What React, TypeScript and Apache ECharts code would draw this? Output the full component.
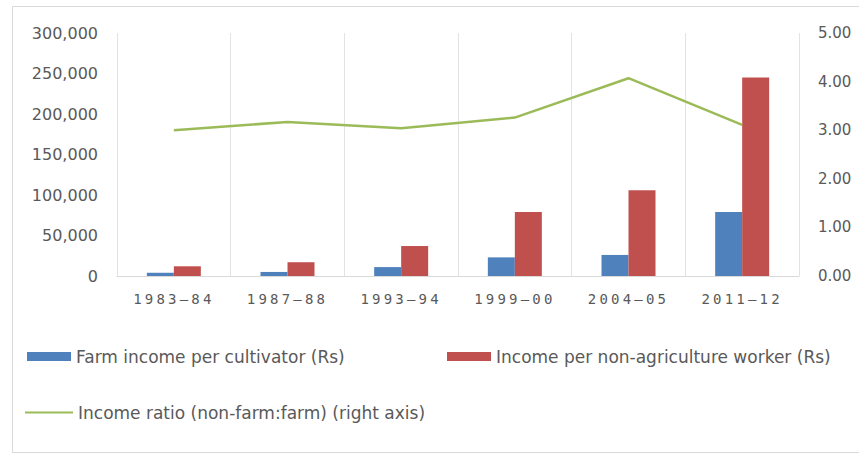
import React, { useEffect, useRef } from "react";
import * as echarts from "echarts";

const categories = ["1983–84", "1987–88", "1993–94", "1999–00", "2004–05", "2011–12"];
const farmIncome = [4000, 5000, 11000, 23000, 26000, 79000];
const nonAgriIncome = [12000, 17000, 37000, 79000, 106000, 245000];
const incomeRatio = [3.0, 3.17, 3.04, 3.26, 4.07, 3.11];

const nameFarm = "Farm income per cultivator (Rs)";
const nameNonAgri = "Income per non-agriculture worker (Rs)";
const nameRatio = "Income ratio (non-farm:farm) (right axis)";

const textColor = "#595959";
const font = "DejaVu Sans";

export default function App() {
  const ref = useRef<HTMLDivElement>(null);
  useEffect(() => {
    document.body.style.margin = "0";
    const chart = echarts.init(ref.current!, null, { renderer: "svg" });
    const legendText = { color: textColor, fontFamily: font, fontSize: 17 };
    chart.setOption({
      animation: false,
      backgroundColor: "#ffffff",
      textStyle: { fontFamily: font },
      graphic: [
        {
          type: "rect",
          shape: { x: 12.5, y: 6.5, width: 870, height: 446 },
          style: { fill: "none", stroke: "#d9d9d9", lineWidth: 1 },
          silent: true,
        },
      ],
      grid: { left: 117, right: 60, top: 33, bottom: 179, containLabel: false },
      legend: [
        {
          data: [{ name: nameFarm, icon: "rect" }],
          left: 27,
          top: 348,
          padding: 0,
          itemWidth: 44,
          itemHeight: 9,
          textStyle: legendText,
        },
        {
          data: [{ name: nameNonAgri, icon: "rect" }],
          left: 447,
          top: 348,
          padding: 0,
          itemWidth: 44,
          itemHeight: 9,
          textStyle: legendText,
        },
        {
          data: [{ name: nameRatio, icon: "rect" }],
          left: 25,
          top: 404,
          padding: 0,
          itemWidth: 48,
          itemHeight: 2,
          textStyle: legendText,
        },
      ],
      xAxis: {
        type: "category",
        data: categories,
        axisLine: { show: true, lineStyle: { color: "#d9d9d9" } },
        axisTick: { show: false },
        splitLine: { show: true, lineStyle: { color: "#e3e3e3" } },
        axisLabel: { color: textColor, fontFamily: "DejaVu Sans Mono", fontSize: 14, margin: 16 },
      },
      yAxis: [
        {
          type: "value",
          min: 0,
          max: 300000,
          interval: 50000,
          splitLine: { show: false },
          axisLine: { show: false },
          axisTick: { show: false },
          axisLabel: {
            color: textColor,
            fontFamily: font,
            fontSize: 16,
            margin: 19,
            formatter: (v: number) => v.toLocaleString("en-US"),
          },
        },
        {
          type: "value",
          min: 0,
          max: 5,
          interval: 1,
          splitLine: { show: false },
          axisLine: { show: false },
          axisTick: { show: false },
          axisLabel: {
            color: textColor,
            fontFamily: font,
            fontSize: 15,
            margin: 19,
            formatter: (v: number) => v.toFixed(2),
          },
        },
      ],
      series: [
        {
          name: nameFarm,
          type: "bar",
          data: farmIncome,
          barWidth: 27,
          barGap: "0%",
          itemStyle: { color: "#4f81bd" },
        },
        {
          name: nameNonAgri,
          type: "bar",
          data: nonAgriIncome,
          barWidth: 27,
          barGap: "0%",
          itemStyle: { color: "#c0504d" },
        },
        {
          name: nameRatio,
          type: "line",
          yAxisIndex: 1,
          data: incomeRatio,
          symbol: "none",
          smooth: false,
          lineStyle: { color: "#9bbb59", width: 2.5 },
          itemStyle: { color: "#9bbb59" },
        },
      ],
    });
    const spaceLabels = () => {
      const texts = ref.current?.querySelectorAll("text") || [];
      texts.forEach((t) => {
        if (categories.includes((t.textContent || "").trim())) {
          t.setAttribute("letter-spacing", "3.2");
        }
      });
    };
    spaceLabels();
    chart.on("finished", spaceLabels);
    return () => chart.dispose();
  }, []);
  return <div ref={ref} style={{ width: 859, height: 455 }} />;
}
